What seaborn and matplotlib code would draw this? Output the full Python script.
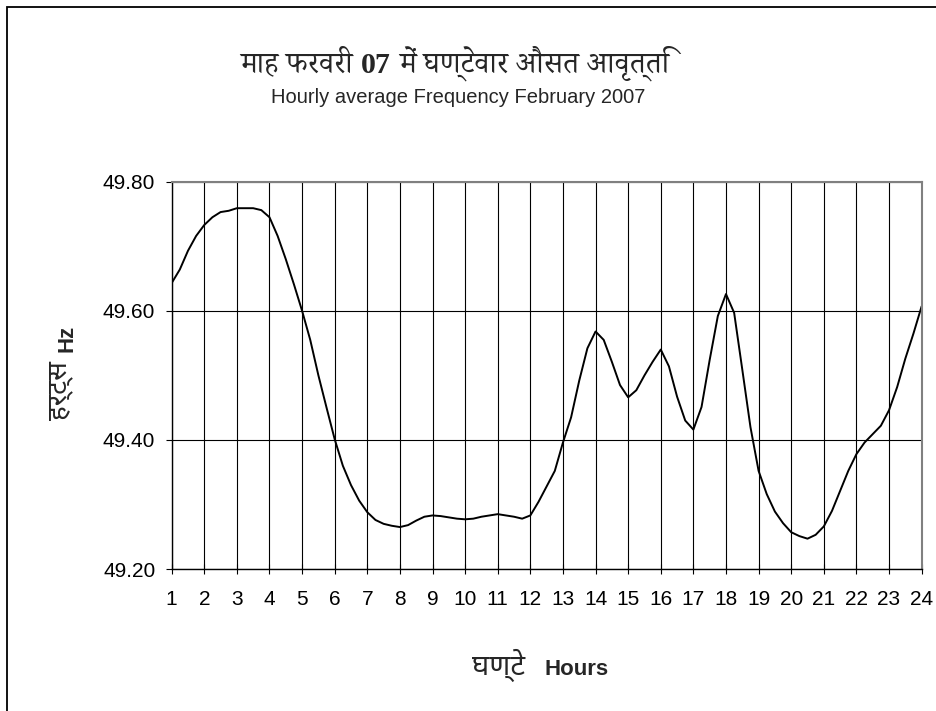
import matplotlib
matplotlib.use("Agg")
import matplotlib.pyplot as plt
import matplotlib.patches as patches
from matplotlib.offsetbox import TextArea, HPacker, AnchoredOffsetbox
import pandas as pd
import seaborn as sns

# quarter-hourly readings taken off the smoothed frequency curve
hours = [1.0, 1.25, 1.5, 1.75, 2.0, 2.25, 2.5, 2.75, 3.0, 3.25, 3.5, 3.75,
         4.0, 4.25, 4.5, 4.75, 5.0, 5.25, 5.5, 5.75, 6.0, 6.25, 6.5, 6.75,
         7.0, 7.25, 7.5, 7.75, 8.0, 8.25, 8.5, 8.75, 9.0, 9.25, 9.5, 9.75,
         10.0, 10.25, 10.5, 10.75, 11.0, 11.25, 11.5, 11.75, 12.0, 12.25,
         12.5, 12.75, 13.0, 13.25, 13.5, 13.75, 14.0, 14.25, 14.5, 14.75,
         15.0, 15.25, 15.5, 15.75, 16.0, 16.25, 16.5, 16.75, 17.0, 17.25,
         17.5, 17.75, 18.0, 18.25, 18.5, 18.75, 19.0, 19.25, 19.5, 19.75,
         20.0, 20.25, 20.5, 20.75, 21.0, 21.25, 21.5, 21.75, 22.0, 22.25,
         22.5, 22.75, 23.0, 23.25, 23.5, 23.75, 24.0]
freq = [49.643, 49.664, 49.693, 49.716, 49.733, 49.745, 49.753, 49.755,
        49.759, 49.759, 49.759, 49.756, 49.745, 49.716, 49.680, 49.641,
        49.600, 49.555, 49.500, 49.450, 49.401, 49.360, 49.330, 49.306,
        49.288, 49.276, 49.270, 49.267, 49.265, 49.268, 49.275, 49.281,
        49.283, 49.282, 49.280, 49.278, 49.277, 49.278, 49.281, 49.283,
        49.285, 49.283, 49.281, 49.278, 49.283, 49.304, 49.328, 49.352,
        49.396, 49.435, 49.492, 49.542, 49.568, 49.555, 49.521, 49.485,
        49.466, 49.477, 49.500, 49.521, 49.540, 49.514, 49.467, 49.430,
        49.416, 49.451, 49.524, 49.592, 49.626, 49.597, 49.509, 49.420,
        49.352, 49.316, 49.289, 49.271, 49.257, 49.251, 49.247, 49.253,
        49.266, 49.290, 49.321, 49.352, 49.378, 49.396, 49.409, 49.422,
        49.446, 49.482, 49.526, 49.565, 49.607]

x_ticks = list(range(1, 25))
y_ticks = [49.20, 49.40, 49.60, 49.80]

title_parts = ["माह फरवरी", "07", "में घण्टेवार औसत आवृत्ति"]
title_en = "Hourly average Frequency February 2007"
ylabel_hi = "हर्ट्स"
ylabel_en = "Hz"
xlabel_hi = "घण्टे"
xlabel_en = "Hours"

sans = ["Liberation Sans", "Noto Sans Devanagari", "FreeSans", "DejaVu Sans"]
serif = ["Noto Serif Devanagari", "FreeSerif", "Liberation Serif"]

sns.set_style("white")
plt.rcParams["font.family"] = sans

df = pd.DataFrame({"hour": hours, "freq": freq})

fig = plt.figure(figsize=(9.37, 7.11), dpi=100)
ax = fig.add_axes([0.1832, 0.1997, 0.8004, 0.5447])

sns.lineplot(data=df, x="hour", y="freq", ax=ax, color="black", linewidth=1.4)

ax.set_xlim(1, 24)
ax.set_ylim(49.2, 49.8)
ax.set_xticks(x_ticks)
ax.set_yticks(y_ticks)
ax.set_yticklabels(["%.2f" % v for v in y_ticks])
ax.set_xlabel("")
ax.set_ylabel("")

ax.grid(True, color="black", linewidth=0.8)
ax.tick_params(axis="x", direction="inout", length=6.5, width=0.8, pad=12,
               labelsize=15, colors="black", bottom=True)
ax.tick_params(axis="y", direction="out", length=4.3, width=0.8, pad=7.5,
               labelsize=15, colors="black", left=True)

for side in ["left", "bottom"]:
    ax.spines[side].set_color("black")
    ax.spines[side].set_linewidth(1.0)
for side in ["top", "right"]:
    ax.spines[side].set_color("#808080")
    ax.spines[side].set_linewidth(1.5)


def packed_text(parts, sep, xy):
    areas = [TextArea(t, textprops=p) for t, p in parts]
    box = HPacker(children=areas, sep=sep, pad=0, align="baseline")
    anchored = AnchoredOffsetbox(loc="center", child=box, pad=0, borderpad=0,
                                 frameon=False, bbox_to_anchor=xy,
                                 bbox_transform=fig.transFigure)
    fig.add_artist(anchored)


# titles
packed_text([(title_parts[0], dict(fontsize=21.5, family=serif)),
             (title_parts[1], dict(fontsize=21.5, family=["Liberation Serif"],
                                   fontweight="bold")),
             (title_parts[2], dict(fontsize=21.5, family=serif))],
            6, (0.485, 0.911))
fig.text(0.489, 0.863, title_en, ha="center", va="center", fontsize=14.5)

# y label
fig.text(0.071, 1 - 338 / 711, ylabel_en, ha="center", va="center",
         rotation=90, fontsize=16, fontweight="bold")
fig.text(0.064, 1 - 390 / 711, ylabel_hi, ha="center", va="center",
         rotation=90, fontsize=20, fontweight="bold")

# x label
packed_text([(xlabel_hi, dict(fontsize=21, fontweight="bold")),
             (xlabel_en, dict(fontsize=16, fontweight="bold"))],
            14, (540 / 937, 1 - 665 / 711))

# chart area border (runs past the right and bottom edge)
border = patches.Rectangle((7 / 937, -0.1), 1.2, 1 - 7 / 711 + 0.1,
                           transform=fig.transFigure, fill=False,
                           edgecolor="black", linewidth=1.3)
fig.patches.append(border)

fig.savefig("out.png", dpi=100)
